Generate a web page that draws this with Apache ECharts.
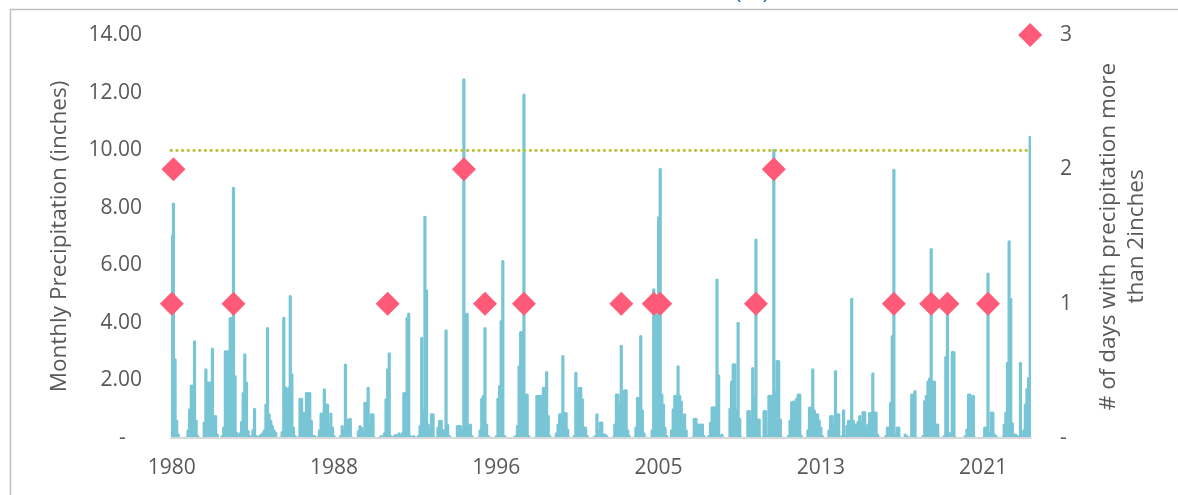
<!DOCTYPE html>
<html>
<head>
<meta charset="utf-8">
<script src="https://cdn.jsdelivr.net/npm/echarts@6/dist/echarts.min.js"></script>
<style>
html,body{margin:0;padding:0;background:#fff;}
#chart{width:1178px;height:495px;}
</style>
</head>
<body>
<div id="chart"></div>
<script>
// ---- data ----
var startYear = 1980;
var monthCount = 530; // Jan 1980 .. Feb 2024
var categories = [];
for (var k = 0; k < monthCount; k++) {
  var yy = startYear + Math.floor(k / 12);
  var mm = (k % 12) + 1;
  categories.push(yy + '-' + (mm < 10 ? '0' + mm : '' + mm));
}

// Monthly precipitation (inches), one row per year
var monthlyPrecip = [
  7.05, 8.18, 2.77, 0.63, 0.16, 0, 0, 0, 0, 0.05, 0.3, 1.03,          // 1980
  1.86, 1.86, 3.4, 0.63, 0.1, 0, 0, 0, 0.57, 2.42, 1.96, 1.96,         // 1981
  1.96, 3.14, 0.8, 0.8, 0.16, 0, 0, 0.1, 0.4, 3.05, 3.05, 3.05,        // 1982
  4.2, 4.2, 8.73, 2.19, 0.22, 0.1, 0.2, 0.6, 1.6, 2.94, 1.96, 0.28,    // 1983
  0.1, 0.05, 0.3, 1.05, 0.1, 0.05, 0.1, 0.15, 0.2, 0.3, 1.2, 3.86,     // 1984
  0.86, 0.63, 0.45, 0.3, 0.22, 0, 0, 0.05, 0.24, 4.21, 1.8, 1.0,       // 1985
  1.78, 4.97, 2.25, 0.4, 0.1, 0, 0.05, 1.4, 1.4, 0.9, 0.9, 1.6,        // 1986
  1.6, 1.6, 0.63, 0.1, 0.1, 0.05, 0.05, 0.3, 0.89, 0.89, 1.73, 1.2,    // 1987
  1.2, 0.5, 0.89, 0.4, 0.1, 0, 0, 0, 0.1, 0.45, 0.3, 2.59,             // 1988
  0.68, 0.68, 0.7, 0.05, 0, 0, 0, 0.28, 0.45, 0.39, 0.2, 1.26,         // 1989
  1.26, 1.78, 0.5, 0.86, 0.86, 0.05, 0, 0, 0.05, 0.1, 0.05, 0.2,       // 1990
  1.38, 2.42, 2.98, 0.1, 0.05, 0.1, 0.15, 0.1, 0.2, 0.1, 0.2, 1.6,     // 1991
  1.6, 4.21, 4.36, 0.1, 0.05, 0.1, 0.05, 0.05, 0.1, 0.45, 3.52, 1.0,   // 1992
  7.72, 5.17, 0.5, 0.3, 0.86, 0.86, 0.05, 0, 0.4, 0.63, 0.63, 0.3,     // 1993
  0.3, 3.78, 0.5, 0.1, 0.05, 0, 0, 0, 0.45, 0.45, 0.45, 0.3,           // 1994
  12.5, 4.3, 4.36, 0.45, 0.5, 0.1, 0, 0, 0, 0.05, 0.3, 1.4,            // 1995
  1.5, 3.86, 0.5, 0.1, 0.05, 0, 0, 0, 0.1, 1.4, 1.84, 4.1,             // 1996
  6.18, 0.1, 0.05, 0, 0, 0, 0, 0.05, 0.1, 0.45, 2.53, 3.72,            // 1997
  3.72, 11.97, 1.55, 1.55, 0.1, 0, 0, 0, 0.05, 1.5, 1.5, 1.5,          // 1998
  1.5, 1.78, 1.78, 2.33, 0.8, 0.1, 0, 0, 0.05, 0.2, 0.5, 0.86,         // 1999
  0.86, 2.88, 0.9, 0.9, 0.33, 0.05, 0, 0, 0.1, 2.3, 1.6, 1.78,         // 2000
  1.78, 1.38, 0.4, 0.4, 0.1, 0, 0, 0, 0.05, 0.1, 0.86, 0.28,           // 2001
  0.57, 0.57, 0.16, 0.16, 0.1, 0, 0, 0, 0.05, 0.5, 1.55, 1.55,         // 2002
  1.2, 3.24, 1.2, 1.69, 1.69, 0.3, 0.1, 0, 0, 0.05, 0.4, 1.43,         // 2003
  1.43, 3.58, 1.0, 0.2, 0.05, 0, 0, 0, 0.3, 5.2, 5.0, 0.8,             // 2004
  7.7, 9.39, 1.55, 1.2, 0.4, 0.1, 0, 0, 0.3, 1.03, 1.5, 1.5,           // 2005
  2.53, 1.5, 1.3, 0.5, 0.86, 0.3, 0, 0, 0, 0.05, 0.7, 0.7,             // 2006
  0.5, 0.5, 0.5, 0.5, 0.1, 0, 0, 0.1, 0.57, 1.1, 1.1, 1.1,             // 2007
  5.54, 2.21, 0.1, 0.16, 0.05, 0, 0, 0, 1.05, 2.0, 2.6, 2.6,           // 2008
  1.0, 4.04, 0.7, 0.05, 0, 0, 0, 0.97, 0.97, 0.63, 2.47, 1.5,          // 2009
  6.93, 0.68, 0.68, 0.05, 0, 0.97, 0.97, 0.1, 1.5, 1.5, 1.5, 10.05,    // 2010
  1.63, 2.71, 2.71, 0.68, 0.05, 0, 0, 0, 0.1, 0.63, 1.28, 1.3,         // 2011
  1.3, 1.4, 1.55, 1.55, 0.1, 0, 0, 0, 0.3, 1.09, 1.09, 2.42,           // 2012
  1.0, 0.86, 0.86, 0.63, 0.4, 0.1, 0, 0, 0, 0.3, 0.8, 0.8,             // 2013
  0.5, 2.36, 0.86, 0.86, 0.05, 0.1, 1.0, 0.1, 0.45, 0.63, 0.63, 4.87,  // 2014
  0.63, 0.5, 0.5, 0.6, 0.8, 0.6, 0.94, 0.94, 0.4, 0.5, 0.9, 0.9,       // 2015
  2.28, 0.92, 0.92, 0.16, 0.05, 0, 0, 0, 0.1, 0.4, 0.4, 1.26,          // 2016
  3.58, 9.35, 0.16, 0.4, 0.4, 0.05, 0, 0, 0.16, 0.1, 0.05, 0.05,       // 2017
  1.55, 1.55, 1.67, 0.05, 0, 0, 0, 0.1, 1.32, 1.5, 2.0, 2.1,           // 2018
  6.6, 2.0, 2.0, 0.5, 0.5, 0.05, 0, 0, 0.1, 2.85, 4.62, 0.2,           // 2019
  0.2, 3.02, 3.02, 0.05, 0, 0, 0, 0, 0, 0.1, 0.33, 1.55,               // 2020
  1.55, 1.38, 1.5, 0.05, 0, 0, 0, 0, 0.05, 0.4, 0.4, 5.75,             // 2021
  0.2, 0.92, 0.92, 0.16, 0.1, 0, 0, 0, 0.05, 0.5, 0.92, 2.65,          // 2022
  6.87, 4.87, 0.55, 0.16, 0.16, 0.1, 0.05, 2.65, 0.05, 0.3, 1.2, 1.74, // 2023
  2.12, 10.5                                                           // 2024
];

// Months with days of precipitation more than 2 inches (right axis)
var eventMonths = ['1980-01','1980-02','1983-03','1991-02','1995-01','1996-02','1998-02','2003-02',
                   '2004-10','2005-02','2010-01','2010-12','2017-02','2019-01','2019-11','2021-12','2024-02'];
var eventDays   = [1, 2, 1, 1, 2, 1, 1, 1, 1, 1, 1, 2, 1, 1, 1, 1, 3];

var thresholdInches = 10;
var leftAxisMax = 14, leftAxisStep = 2;
var rightAxisMax = 3, rightAxisStep = 1;

// ---- chart ----
var scatterData = eventMonths.map(function (m, i) { return [m, eventDays[i]]; });
var font = '"Open Sans", "Noto Sans", sans-serif';
var grey = '#595959';

var chart = echarts.init(document.getElementById('chart'), null, {renderer: 'canvas'});
chart.setOption({
  animation: false,
  backgroundColor: '#ffffff',
  textStyle: {fontFamily: font},
  grid: {left: 171, right: 147, top: 35, bottom: 57, containLabel: false},
  graphic: [
    {type: 'rect', left: 8, top: 7, shape: {x: 0, y: 0, width: 1300, height: 600},
     style: {fill: 'none', stroke: '#BFBFBF', lineWidth: 1.5}, silent: true, z: -1},
    {type: 'text', x: 752, y: -9, style: {text: '(in)', font: '24px ' + font, fill: '#2E6DA4',
      align: 'center', verticalAlign: 'middle'}, silent: true}
  ],
  xAxis: {
    type: 'category',
    data: categories,
    boundaryGap: true,
    z: 5,
    axisLine: {show: true, lineStyle: {color: '#D9D9D9', width: 2}},
    axisTick: {show: false},
    splitLine: {show: false},
    axisLabel: {interval: 99, margin: 20, fontSize: 21, color: grey, fontFamily: font,
      formatter: function (v) { return v.slice(0, 4); }}
  },
  yAxis: [
    {
      type: 'value', min: 0, max: leftAxisMax, interval: leftAxisStep,
      splitLine: {show: false}, axisLine: {show: false}, axisTick: {show: false},
      axisLabel: {margin: 29, fontSize: 21, color: grey, fontFamily: font,
        formatter: function (v) { return v === 0 ? '-   ' : v.toFixed(2); }},
      name: 'Monthly Precipitation (inches)', nameLocation: 'middle', nameGap: 100, nameRotate: 90,
      nameTextStyle: {fontSize: 22.5, color: grey, fontFamily: font}
    },
    {
      type: 'value', min: 0, max: rightAxisMax, interval: rightAxisStep, position: 'right',
      splitLine: {show: false}, axisLine: {show: false}, axisTick: {show: false},
      axisLabel: {margin: 29, fontSize: 21, color: grey, fontFamily: font,
        formatter: function (v) { return v === 0 ? '-' : String(v); }},
      name: '# of days with precipitation more\nthan 2inches', nameLocation: 'middle', nameGap: 64, nameRotate: 90,
      nameTextStyle: {fontSize: 22.5, color: grey, fontFamily: font, lineHeight: 28, align: 'center'}
    }
  ],
  series: [
    {
      name: 'Monthly Precipitation',
      type: 'bar',
      data: monthlyPrecip,
      barWidth: 3.2,
      barGap: '-100%',
      itemStyle: {color: '#78C5D5', borderRadius: [1.5, 1.5, 0, 0]},
      markLine: {
        silent: true, symbol: ['none', 'none'], label: {show: false},
        lineStyle: {color: '#BCC23C', width: 2.8, type: [0.5, 5.2], cap: 'round'},
        data: [{yAxis: thresholdInches}]
      },
      z: 2
    },
    {
      name: 'Days > 2 inches',
      type: 'scatter',
      yAxisIndex: 1,
      data: scatterData,
      symbol: 'diamond',
      symbolSize: 24,
      itemStyle: {color: '#FF5A77', opacity: 1},
      z: 4
    }
  ]
});
</script>
</body>
</html>
